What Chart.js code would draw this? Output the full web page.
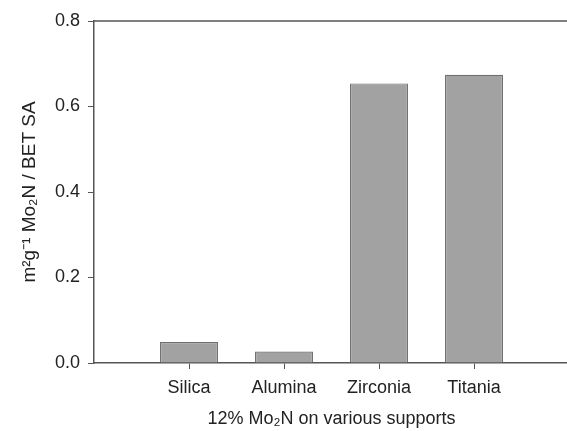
<!DOCTYPE html>
<html>
<head>
<meta charset="utf-8">
<script src="https://cdn.jsdelivr.net/npm/chart.js@4"></script>
<style>
    html, body { margin: 0; padding: 0; background: #fff; overflow: hidden; }
    #wrap { width: 580px; height: 431px; }
</style>
</head>
<body>
<div id="wrap"><canvas id="chart" width="580" height="431"></canvas></div>
<script>
// ============================================================================
// DATA
// ============================================================================
const categories = ['Silica', 'Alumina', 'Zirconia', 'Titania'];
const values = [0.049, 0.027, 0.654, 0.674];
const yTicks = [0, 0.2, 0.4, 0.6, 0.8];

const AXIS = '#555555';
const TEXT = '#222222';
const FONT = 'Liberation Sans, Arial, sans-serif';

// empty slot on each side so categories sit one step in from the frame
const labels = ['', ...categories, ''];
const data = [null, ...values, null];

// top / right frame lines
const framePlugin = {
    id: 'frame',
    afterDraw(chart) {
        const { ctx, chartArea: a } = chart;
        ctx.save();
        ctx.strokeStyle = AXIS;
        ctx.lineWidth = 1.5;
        ctx.beginPath();
        ctx.moveTo(a.left, a.top);
        ctx.lineTo(a.right, a.top);
        ctx.lineTo(a.right, a.bottom);
        ctx.stroke();
        ctx.restore();
    }
};

new Chart(document.getElementById('chart'), {
    type: 'bar',
    data: {
        labels: labels,
        datasets: [{
            data: data,
            backgroundColor: '#a2a2a2',
            borderColor: '#6e6e6e',
            borderWidth: 1.2,
            barPercentage: 0.61,
            categoryPercentage: 1
        }]
    },
    options: {
        responsive: false,
        animation: false,
        layout: { padding: { top: 21, left: 12, right: 11, bottom: 0 } },
        plugins: {
            legend: { display: false },
            tooltip: { enabled: false }
        },
        scales: {
            x: {
                offset: false,
                border: { color: AXIS, width: 1.5 },
                grid: {
                    offset: false,
                    drawOnChartArea: false,
                    tickLength: 6,
                    color: (c) => (c.index === 0 || c.index === labels.length - 1) ? 'rgba(0,0,0,0)' : AXIS
                },
                ticks: {
                    color: TEXT,
                    font: { family: FONT, size: 18 },
                    padding: 8,
                    maxRotation: 0,
                    autoSkip: false
                },
                title: {
                    display: true,
                    text: '12% Mo₂N on various supports',
                    color: TEXT,
                    font: { family: FONT, size: 18 },
                    padding: { top: 4, bottom: 1 }
                },
                afterFit: (s) => { s.height = 68; }
            },
            y: {
                min: 0,
                max: 0.8,
                border: { color: AXIS, width: 1.5 },
                grid: { drawOnChartArea: false, tickLength: 6, color: AXIS },
                afterBuildTicks: (s) => { s.ticks = yTicks.map(v => ({ value: v })); },
                ticks: {
                    color: TEXT,
                    font: { family: FONT, size: 18 },
                    padding: 8,
                    callback: (v) => Number(v).toFixed(1)
                },
                title: {
                    display: true,
                    text: 'm²g⁻¹ Mo₂N / BET SA',
                    color: TEXT,
                    font: { family: FONT, size: 19 },
                    padding: { top: 6, bottom: 4 }
                },
                afterFit: (s) => { s.width = 82; }
            }
        }
    },
    plugins: [framePlugin]
});
</script>
</body>
</html>
